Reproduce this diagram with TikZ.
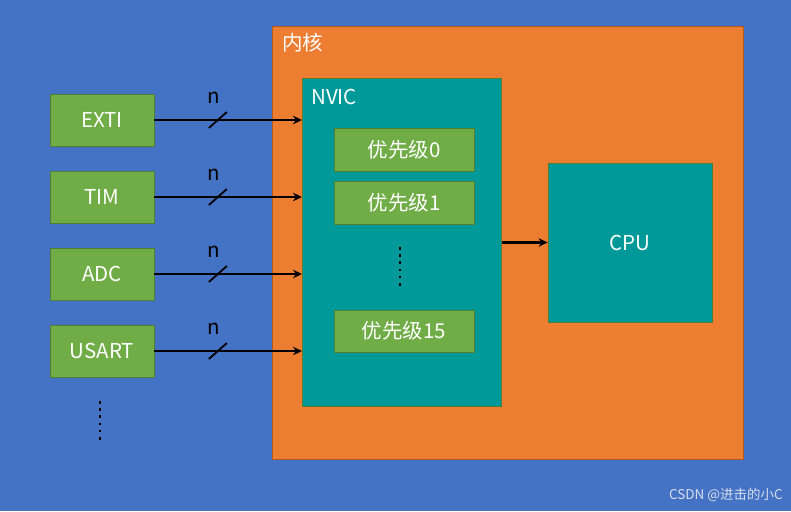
\documentclass[tikz,border=0pt]{standalone}
\usepackage{fontspec}
\setmainfont{Noto Sans CJK SC}
\usetikzlibrary{arrows.meta,calc}
\definecolor{bgblue}{RGB}{68,114,196}
\definecolor{coreorange}{RGB}{237,125,49}
\definecolor{coreedge}{RGB}{174,90,33}
\definecolor{teal}{RGB}{0,153,153}
\definecolor{boxgreen}{RGB}{112,173,71}
\definecolor{greenedge}{RGB}{80,126,50}
\definecolor{wm}{RGB}{215,222,235}
\tikzset{
  gbox/.style={draw=greenedge, line width=0.8pt, fill=boxgreen, text=white, font=\fontsize{20.5}{20.5}\selectfont, inner sep=0pt},
  tbox/.style={draw=greenedge, line width=0.8pt, fill=teal, inner sep=0pt},
  conn/.style={line width=2.8pt, -{Stealth[length=9pt,width=8.5pt]}},
  lbl/.style={text=white, font=\fontsize{20.5}{20.5}\selectfont, inner sep=0pt},
  dotcol/.style={line width=2.6pt, dash pattern=on 2.6pt off 4.6pt}
}
\begin{document}
\begin{tikzpicture}[x=1pt,y=-1pt]
\fill[bgblue] (0,0) rectangle (791,511);
\useasboundingbox (0,0) rectangle (791,511);
% core
\node[draw=coreedge, line width=0.8pt, fill=coreorange, inner sep=0pt, minimum width=471pt, minimum height=433pt, anchor=north west] (core) at (272,26) {};
\node[lbl, anchor=west] (corelbl) at (282,43) {内核};
% NVIC
\node[tbox, minimum width=199pt, minimum height=328pt, anchor=north west] (nvic) at (302,78) {};
\node[lbl, anchor=west] (nviclbl) at (311,97) {NVIC};
% priorities
\node[gbox, minimum width=140pt, minimum height=43pt] (p0) at (404,149.5) {优先级0};
\node[gbox, minimum width=140pt, minimum height=43pt] (p1) at (404,202.5) {优先级1};
\node[gbox, minimum width=140pt, minimum height=42pt] (p15) at (404,331) {优先级15};
\draw[dotcol] (400,247) -- (400,287);
% CPU
\node[tbox, minimum width=164pt, minimum height=159pt, text=white, font=\fontsize{20.5}{20.5}\selectfont] (cpu) at (630,242.5) {CPU};
\draw[conn] (nvic.east |- cpu.west) -- (cpu.west);
% sources
\node[gbox, minimum width=104pt, minimum height=52pt] (exti) at (102,120) {EXTI};
\node[gbox, minimum width=104pt, minimum height=52pt] (tim) at (102,197) {TIM};
\node[gbox, minimum width=104pt, minimum height=52pt] (adc) at (102,274) {ADC};
\node[gbox, minimum width=104pt, minimum height=52pt] (usart) at (102,351) {USART};
\draw[dotcol] (100,401) -- (100,441);
\foreach \s in {exti,tim,adc,usart}{
  \draw[conn] (\s.east) -- (nvic.west |- \s.east);
  \coordinate (m\s) at ($(\s.east)!0.43!(nvic.west |- \s.east)$);
  \draw[line width=1.8pt] ($(m\s)+(-9,8)$) -- ($(m\s)+(9,-8)$);
  \node[font=\fontsize{20.5}{20.5}\selectfont, inner sep=0pt] (n\s) at ($(m\s)+(-4,-22)$) {n};
}
% watermark
\node[text=wm, font=\fontsize{13.5}{13.5}\selectfont, anchor=east, inner sep=0pt] (wmark) at (783,495) {CSDN @进击的小C};
\end{tikzpicture}
\end{document}
